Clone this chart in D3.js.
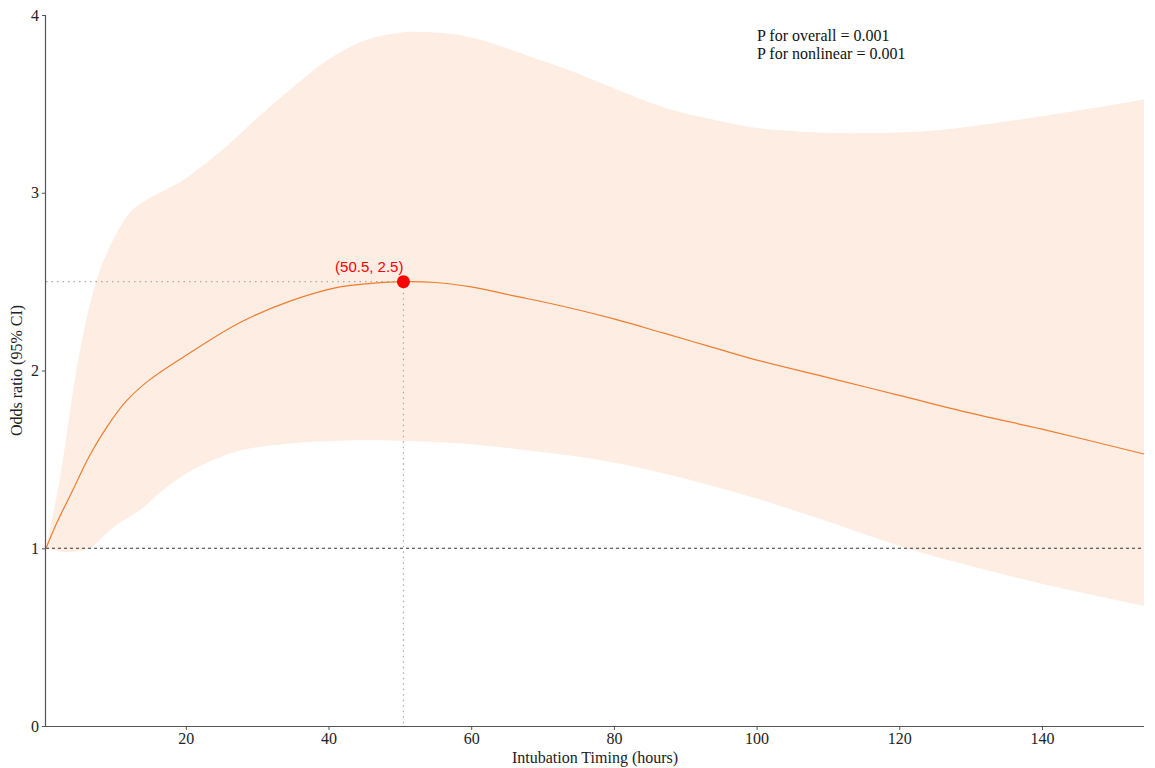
<!DOCTYPE html>
<html>
<head>
<meta charset="utf-8">
<script src="https://cdn.jsdelivr.net/npm/d3@7"></script>
<style>
  html, body { margin: 0; padding: 0; background: #fff; }
  svg { display: block; }
</style>
</head>
<body>
<svg id="chart" width="1155" height="768"></svg>
<script>
// ---- Data ----
const lineX  = [0.4, 2, 4.2, 6.5, 8.9, 11.7, 15, 20.6, 27.6, 34.6, 41.6, 46, 50.5, 55, 60, 66, 73, 80, 87, 93, 99, 110, 120, 130, 140, 154.3];
const lineOR = [1.0, 1.15, 1.33, 1.52, 1.68, 1.83, 1.95, 2.10, 2.27, 2.39, 2.47, 2.49, 2.50, 2.495, 2.47, 2.42, 2.36, 2.29, 2.21, 2.14, 2.07, 1.96, 1.86, 1.76, 1.67, 1.53];

const upperX  = [0.4, 2.3, 5.1, 7.5, 9.4, 12.2, 14.5, 17.3, 19.6, 24.8, 30, 34.6, 40, 45, 50, 53, 58, 63, 68, 73, 78, 87, 93, 99, 106, 113, 120, 126, 133, 140, 147, 154.3];
const upperCI = [1.0, 1.38, 2.10, 2.51, 2.70, 2.89, 2.96, 3.02, 3.07, 3.23, 3.42, 3.58, 3.75, 3.855, 3.90, 3.905, 3.89, 3.84, 3.77, 3.70, 3.62, 3.48, 3.42, 3.37, 3.345, 3.335, 3.34, 3.355, 3.39, 3.43, 3.475, 3.525];

const lowerX  = [0.4, 2, 4.2, 6.5, 8.9, 11, 13.6, 16, 18.2, 20.5, 22.9, 27.6, 34.6, 41.6, 50, 58.8, 68, 77.6, 85, 92, 100, 110, 121, 130, 140, 154.3];
const lowerCI = [1.0, 0.985, 0.98, 1.0, 1.085, 1.15, 1.215, 1.30, 1.37, 1.43, 1.48, 1.55, 1.59, 1.605, 1.605, 1.59, 1.55, 1.50, 1.44, 1.37, 1.28, 1.15, 1.0, 0.90, 0.80, 0.675];

const xTicks = [20, 40, 60, 80, 100, 120, 140];
const yTicks = [0, 1, 2, 3, 4];
const peak = {x: 50.5, y: 2.5, label: "(50.5, 2.5)"};
const pTexts = ["P for overall = 0.001", "P for nonlinear = 0.001"];
const xTitle = "Intubation Timing (hours)";
const yTitle = "Odds ratio (95% CI)";

// ---- Layout ----
const W = 1155, H = 768;
const m = {left: 46, right: 11, top: 15, bottom: 42};
const svg = d3.select("#chart");
const serif = "'Liberation Serif', 'DejaVu Serif', serif";

const x = d3.scaleLinear().domain([0.4, 154.3]).range([m.left, W - m.right]);
const y = d3.scaleLinear().domain([0, 4]).range([H - m.bottom, m.top]);

const curve = d3.curveCatmullRom.alpha(0.5);
const lineGen = d3.line().x(d => x(d[0])).y(d => y(d[1])).curve(curve);

// Confidence band: upper forward, lower backward
const bandTop = upperX.map((v, i) => [v, upperCI[i]]);
const bandBot = lowerX.map((v, i) => [v, lowerCI[i]]);
const upPath = lineGen(bandTop);
const lowRev = lineGen(bandBot.slice().reverse());
svg.append("path")
  .attr("d", upPath + "L" + lowRev.slice(1) + "Z")
  .attr("fill", "#fdede3")
  .attr("stroke", "none");

// Reference line at OR = 1
svg.append("line")
  .attr("x1", x(0.4)).attr("x2", x(154.3))
  .attr("y1", y(1)).attr("y2", y(1))
  .attr("stroke", "#333").attr("stroke-width", 1)
  .attr("stroke-dasharray", "3,3");

// Dotted guides to the peak
svg.append("line")
  .attr("x1", x(0.4)).attr("x2", x(peak.x))
  .attr("y1", y(peak.y)).attr("y2", y(peak.y))
  .attr("stroke", "#aaa").attr("stroke-width", 1.2)
  .attr("stroke-dasharray", "1.5,4");
svg.append("line")
  .attr("x1", x(peak.x)).attr("x2", x(peak.x))
  .attr("y1", y(peak.y)).attr("y2", y(0))
  .attr("stroke", "#aaa").attr("stroke-width", 1.2)
  .attr("stroke-dasharray", "1.5,4");

// Main OR curve
const mainData = lineX.map((v, i) => [v, lineOR[i]]);
svg.append("path")
  .attr("d", lineGen(mainData))
  .attr("fill", "none")
  .attr("stroke", "#f07d2e")
  .attr("stroke-width", 1.2);

// Peak point and label
svg.append("circle")
  .attr("cx", x(peak.x)).attr("cy", y(peak.y)).attr("r", 6.5)
  .attr("fill", "#ff0000");
svg.append("text")
  .attr("x", x(peak.x)).attr("y", y(peak.y) - 10)
  .attr("text-anchor", "end")
  .attr("font-family", "'Liberation Sans', Arial, sans-serif")
  .attr("font-size", 15)
  .attr("fill", "#ff0000")
  .text(peak.label);

// Axes
const xAxis = d3.axisBottom(x).tickValues(xTicks).tickFormat(d3.format("d")).tickSize(4).tickPadding(3);
const yAxis = d3.axisLeft(y).tickValues(yTicks).tickFormat(d3.format("d")).tickSize(4).tickPadding(3);

const gx = svg.append("g").attr("transform", `translate(0,${y(0)})`).call(xAxis);
const gy = svg.append("g").attr("transform", `translate(${x(0.4)},0)`).call(yAxis);
[gx, gy].forEach(g => {
  g.select(".domain").attr("stroke", "#555").attr("stroke-width", 1.2);
  g.selectAll(".tick line").attr("stroke", "#555").attr("stroke-width", 1);
  g.selectAll(".tick text")
    .attr("font-family", serif).attr("font-size", 16).attr("fill", "#222");
});
gx.select(".domain").attr("d", `M${x(0.4)},0.5H${x(154.3)}`);
gy.select(".domain").attr("d", `M-0.5,${y(4)}V${y(0)}`);

// Axis titles
svg.append("text")
  .attr("x", (x(0.4) + x(154.3)) / 2).attr("y", 763)
  .attr("text-anchor", "middle")
  .attr("font-family", serif).attr("font-size", 16).attr("fill", "#222")
  .text(xTitle);
svg.append("text")
  .attr("transform", `translate(22,${(y(0) + y(4)) / 2}) rotate(-90)`)
  .attr("text-anchor", "middle")
  .attr("font-family", serif).attr("font-size", 16).attr("fill", "#222")
  .text(yTitle);

// P value annotation
svg.selectAll("text.pval").data(pTexts).enter().append("text")
  .attr("class", "pval")
  .attr("x", 757).attr("y", (d, i) => 41 + i * 18)
  .attr("font-family", serif).attr("font-size", 16).attr("fill", "#111")
  .text(d => d);
</script>
</body>
</html>
